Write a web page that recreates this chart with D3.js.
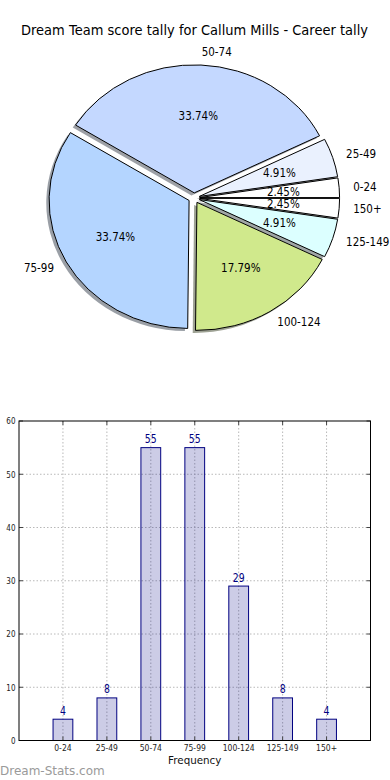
<!DOCTYPE html>
<html>
<head>
<meta charset="utf-8">
<script src="https://cdn.jsdelivr.net/npm/d3@7/dist/d3.min.js"></script>
<style>
  html, body { margin: 0; padding: 0; background: #fff; }
  svg { display: block; font-family: "DejaVu Sans", sans-serif; }
</style>
</head>
<body>
<svg id="chart" width="390" height="780"></svg>
<script>
// ---- data ----
const title = "Dream Team score tally for Callum Mills - Career tally";
const categories = ["0-24", "25-49", "50-74", "75-99", "100-124", "125-149", "150+"];
const counts = [4, 8, 55, 55, 29, 8, 4];
const sliceColors = ["#ffffff", "#eaf1fe", "#c4d8ff", "#b4d5ff", "#d0e98c", "#dcffff", "#ffffff"];
const yTicks = [0, 10, 20, 30, 40, 50, 60];
const xLabel = "Frequency";
const watermark = "Dream-Stats.com";

(function () {
const svg = d3.select("#chart");

function stxt(parent, x, y, s, size, sx, anchor, fill) {
  const g = parent.append("g").attr("transform", `translate(${x},${y}) scale(${sx},1)`);
  return g.append("text").attr("x", 0).attr("y", 0)
    .attr("font-size", size).attr("text-anchor", anchor || "middle")
    .attr("fill", fill || "#000").text(s);
}

// ---- title ----
svg.append("text").attr("x", 194.5).attr("y", 35)
  .attr("text-anchor", "middle").attr("font-size", 13.5)
  .attr("textLength", 347).attr("lengthAdjust", "spacingAndGlyphs")
  .text(title);

// ---- pie ----
const cx = 194, cy = 198, rx = 140, ry = 128, explode = 0.04;
const total = d3.sum(counts);
const pie = d3.pie().sort(null).startAngle(Math.PI / 2).endAngle(Math.PI / 2 - 2 * Math.PI);
const arcs = pie(counts);
const unitArc = d3.arc().innerRadius(0).outerRadius(1);

arcs.forEach((a, i) => {
  const mid = (a.startAngle + a.endAngle) / 2;
  const th = Math.PI / 2 - mid;
  a.ox = explode * rx * Math.cos(th);
  a.oy = -explode * ry * Math.sin(th);
  a.th = th;
  a.color = sliceColors[i];
});

const shadowG = svg.append("g");
arcs.forEach(a => {
  const c = d3.rgb(a.color);
  shadowG.append("path")
    .attr("transform", `translate(${cx + a.ox - 0.02 * rx},${cy + a.oy + 0.02 * ry}) scale(${rx},${ry})`)
    .attr("d", unitArc(a))
    .attr("fill", d3.rgb(c.r * 0.3, c.g * 0.3, c.b * 0.3))
    .attr("fill-opacity", 0.5);
});
const wedgeG = svg.append("g");
arcs.forEach(a => {
  wedgeG.append("path")
    .attr("transform", `translate(${cx + a.ox},${cy + a.oy}) scale(${rx},${ry})`)
    .attr("d", unitArc(a))
    .attr("fill", a.color)
    .attr("stroke", "#000")
    .attr("stroke-width", 1)
    .attr("vector-effect", "non-scaling-stroke")
    .attr("stroke-linejoin", "round");
});
arcs.forEach((a, i) => {
  const c = Math.cos(a.th), s = Math.sin(a.th);
  const lx = cx + a.ox + 1.1 * rx * c, ly = cy + a.oy - 1.1 * ry * s;
  stxt(svg, lx, ly + 4, categories[i], 11.5, 0.9, c > 0 ? "start" : "end");
  const px = cx + a.ox + 0.6 * rx * c, py = cy + a.oy - 0.6 * ry * s;
  stxt(svg, px, py + 4, (counts[i] / total * 100).toFixed(2) + "%", 11.5, 0.9, "middle");
});

// ---- bar chart ----
const pl = 19, pr = 370.5, pt = 421, pb = 740.5;
const x = d3.scaleLinear().domain([0, categories.length + 1]).range([pl, pr]);
const y = d3.scaleLinear().domain([0, 60]).range([pb, pt]);
const barW = x(0.45) - x(0);

const grid = svg.append("g").attr("stroke", "#b8b8b8").attr("stroke-width", 1).attr("stroke-dasharray", "1.5,2");
categories.forEach((c, i) => {
  grid.append("line").attr("x1", x(i + 1)).attr("x2", x(i + 1)).attr("y1", pt).attr("y2", pb);
});
yTicks.slice(1, -1).forEach(t => {
  grid.append("line").attr("x1", pl).attr("x2", pr).attr("y1", y(t)).attr("y2", y(t));
});

const bars = svg.append("g");
counts.forEach((v, i) => {
  bars.append("rect")
    .attr("x", x(i + 1) - barW / 2).attr("y", y(v))
    .attr("width", barW).attr("height", y(0) - y(v))
    .attr("fill", "#000080").attr("fill-opacity", 0.2)
    .attr("stroke", "#000080").attr("stroke-width", 1);
  stxt(svg, x(i + 1), y(v) - 4.5, String(v), 12, 0.78, "middle", "#000080");
});

// ticks
const tk = svg.append("g").attr("stroke", "#444").attr("stroke-width", 1);
yTicks.forEach(t => {
  tk.append("line").attr("x1", pl).attr("x2", pl + 4).attr("y1", y(t)).attr("y2", y(t));
  tk.append("line").attr("x1", pr - 4).attr("x2", pr).attr("y1", y(t)).attr("y2", y(t));
  stxt(svg, 15.5, y(t) + 3.3, String(t), 9, 0.8, "end", "#222");
});
categories.forEach((c, i) => {
  tk.append("line").attr("x1", x(i + 1)).attr("x2", x(i + 1)).attr("y1", pb).attr("y2", pb - 4);
  tk.append("line").attr("x1", x(i + 1)).attr("x2", x(i + 1)).attr("y1", pt).attr("y2", pt + 4);
  stxt(svg, x(i + 1), 750.5, c, 8.5, 0.9, "middle", "#222");
});

svg.append("rect").attr("x", pl).attr("y", pt)
  .attr("width", pr - pl).attr("height", pb - pt)
  .attr("fill", "none").attr("stroke", "#000").attr("stroke-width", 1);

stxt(svg, (pl + pr) / 2, 764.3, xLabel, 11, 0.94, "middle", "#111");

// watermark
svg.append("text").attr("x", 0).attr("y", 774.5).attr("font-size", 12)
  .attr("fill", "#9a9a9a").text(watermark);
})();
</script>
</body>
</html>
